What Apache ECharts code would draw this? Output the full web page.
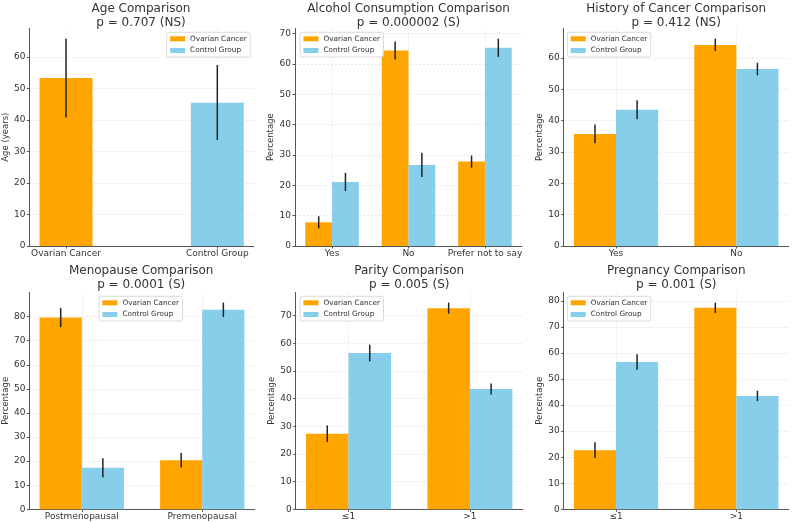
<!DOCTYPE html>
<html><head><meta charset="utf-8">
<script src="https://cdn.jsdelivr.net/npm/echarts@6/dist/echarts.min.js"></script>
<style>html,body{margin:0;padding:0;background:#fff}#c{width:792px;height:523px}</style>
</head><body><div id="c"></div>
<script>
// ---------- data ----------
const seriesNames = ['Ovarian Cancer', 'Control Group'];
const panelTitles = ['Age Comparison', 'Alcohol Consumption Comparison', 'History of Cancer Comparison',
  'Menopause Comparison', 'Parity Comparison', 'Pregnancy Comparison'];
const pValueLabels = ['p = 0.707 (NS)', 'p = 0.000002 (S)', 'p = 0.412 (NS)',
  'p = 0.0001 (S)', 'p = 0.005 (S)', 'p = 0.001 (S)'];
const yAxisNames = ['Age (years)', 'Percentage', 'Percentage', 'Percentage', 'Percentage', 'Percentage'];

const ageCategories = ['Ovarian Cancer', 'Control Group'];
const ageMeans = [53.3, 45.5];
const ageErrors = [12.5, 11.9];
const ageYTicks = [0, 10, 20, 30, 40, 50, 60];

const alcoholCategories = ['Yes', 'No', 'Prefer not to say'];
const alcoholOvarian = [7.8, 64.4, 27.8];
const alcoholOvarianErr = [2, 3, 2];
const alcoholControl = [21.1, 26.7, 65.3];
const alcoholControlErr = [3, 4, 3];
const alcoholYTicks = [0, 10, 20, 30, 40, 50, 60, 70];

const historyCategories = ['Yes', 'No'];
const historyOvarian = [35.8, 64.2];
const historyOvarianErr = [3, 2];
const historyControl = [43.5, 56.5];
const historyControlErr = [3, 2];
const historyYTicks = [0, 10, 20, 30, 40, 50, 60];

const menopauseCategories = ['Postmenopausal', 'Premenopausal'];
const menopauseOvarian = [79.6, 20.4];
const menopauseOvarianErr = [4, 3];
const menopauseControl = [17.2, 82.8];
const menopauseControlErr = [4, 3];
const menopauseYTicks = [0, 10, 20, 30, 40, 50, 60, 70, 80];

const parityCategories = ['≤1', '>1'];
const parityOvarian = [27.3, 72.7];
const parityOvarianErr = [3, 2];
const parityControl = [56.5, 43.5];
const parityControlErr = [3, 2];
const parityYTicks = [0, 10, 20, 30, 40, 50, 60, 70];

const pregnancyCategories = ['≤1', '>1'];
const pregnancyOvarian = [22.7, 77.3];
const pregnancyOvarianErr = [3, 2];
const pregnancyControl = [56.5, 43.5];
const pregnancyControlErr = [3, 2];
const pregnancyYTicks = [0, 10, 20, 30, 40, 50, 60, 70, 80];

// ---------- layout / style ----------
const COLORS = ['#FFA500', '#87CEEB'];
const BAR_W = 0.35;
const FONT = 'DejaVu Sans';
const TEXT = '#333';
const gridRects = [
  [28, 28.3, 226, 217.7], [295, 28.3, 227, 217.7], [563.7, 28.3, 225, 217.7],
  [27.7, 292.3, 227, 217], [295.7, 292.3, 227, 217], [563.7, 292.3, 225, 217]
];
const legendPos = [[166.7, 32.3], [300, 32.3], [567.3, 32.3], [99, 296.3], [300, 296.3], [567.3, 296.3]];
const titleTops = [2.6, 264.3];

const panels = [
  { cats: ageCategories, single: true, ovarian: [[0, ageMeans[0], ageErrors[0]]], control: [[1, ageMeans[1], ageErrors[1]]], ticks: ageYTicks },
  { cats: alcoholCategories, ov: alcoholOvarian, ovE: alcoholOvarianErr, co: alcoholControl, coE: alcoholControlErr, ticks: alcoholYTicks },
  { cats: historyCategories, ov: historyOvarian, ovE: historyOvarianErr, co: historyControl, coE: historyControlErr, ticks: historyYTicks },
  { cats: menopauseCategories, ov: menopauseOvarian, ovE: menopauseOvarianErr, co: menopauseControl, coE: menopauseControlErr, ticks: menopauseYTicks },
  { cats: parityCategories, ov: parityOvarian, ovE: parityOvarianErr, co: parityControl, coE: parityControlErr, ticks: parityYTicks },
  { cats: pregnancyCategories, ov: pregnancyOvarian, ovE: pregnancyOvarianErr, co: pregnancyControl, coE: pregnancyControlErr, ticks: pregnancyYTicks }
];
panels.forEach(p => {
  if (!p.single) {
    p.ovarian = p.cats.map((c, i) => [i - BAR_W / 2, p.ov[i], p.ovE[i]]);
    p.control = p.cats.map((c, i) => [i + BAR_W / 2, p.co[i], p.coE[i]]);
  }
});

function renderBar(params, api) {
  const x = api.value(0), y = api.value(1), e = api.value(2);
  const a = api.coord([x - BAR_W / 2, y]);
  const b = api.coord([x + BAR_W / 2, 0]);
  const t = api.coord([x, y + e]);
  const bt = api.coord([x, y - e]);
  return {
    type: 'group',
    children: [
      { type: 'rect', shape: { x: a[0], y: a[1], width: b[0] - a[0], height: b[1] - a[1] }, style: { fill: api.visual('color') } },
      { type: 'line', shape: { x1: t[0], y1: t[1], x2: bt[0], y2: bt[1] }, style: { stroke: '#222', lineWidth: 1.5 }, z2: 10 }
    ]
  };
}

const option = {
  animation: false,
  backgroundColor: '#fff',
  textStyle: { fontFamily: FONT },
  title: [], grid: [], xAxis: [], yAxis: [], legend: [], series: []
};

panels.forEach((p, k) => {
  const r = gridRects[k];
  option.grid.push({ left: r[0], top: r[1], width: r[2], height: r[3], containLabel: false });
  option.title.push({
    text: panelTitles[k] + '\n' + pValueLabels[k],
    left: r[0] + r[2] / 2, top: titleTops[k < 3 ? 0 : 1], textAlign: 'center', padding: 0,
    textStyle: { fontFamily: FONT, fontSize: 12, fontWeight: 'normal', color: TEXT, lineHeight: 13.4 }
  });
  const n = p.cats.length;
  const lo = p.single ? -BAR_W / 2 : -BAR_W;
  const hi = p.single ? n - 1 + BAR_W / 2 : n - 1 + BAR_W;
  const m = (hi - lo) * 0.05;
  const catIdx = p.cats.map((c, i) => i);
  const allTops = p.ovarian.concat(p.control).map(d => d[1] + d[2]);
  const ymax = Math.max(...allTops) * 1.05;
  option.xAxis.push({
    type: 'value', gridIndex: k, min: lo - m, max: hi + m,
    axisLine: { show: true, onZero: false, lineStyle: { color: '#555', width: 1 } },
    axisTick: { show: true, length: 2.5, customValues: catIdx, lineStyle: { color: '#555' } },
    axisLabel: { customValues: catIdx, formatter: v => p.cats[Math.round(v)], fontSize: 9, color: TEXT, margin: 3, fontFamily: FONT },
    splitLine: { show: true, lineStyle: { color: '#e3e3e3', type: [2, 2], width: 0.8 } }
  });
  option.yAxis.push({
    type: 'value', gridIndex: k, min: 0, max: ymax,
    name: yAxisNames[k], nameLocation: 'middle', nameGap: 14.5, nameRotate: 90,
    nameTextStyle: { fontSize: 8.5, color: TEXT, fontFamily: FONT },
    axisLine: { show: true, onZero: false, lineStyle: { color: '#555', width: 1 } },
    axisTick: { show: true, length: 2.5, customValues: p.ticks, lineStyle: { color: '#555' } },
    axisLabel: { customValues: p.ticks, fontSize: 9, color: TEXT, margin: 4, fontFamily: FONT },
    splitLine: { show: true, lineStyle: { color: '#e3e3e3', type: [2, 2], width: 0.8 } }
  });
  option.legend.push({
    left: legendPos[k][0], top: legendPos[k][1], orient: 'vertical', selectedMode: false,
    data: seriesNames, icon: 'rect', itemWidth: 15, itemHeight: 5, itemGap: 3.7,
    padding: [2.5, 3.4], backgroundColor: 'rgba(255,255,255,0.85)', borderColor: '#d0d0d0', borderWidth: 0.8, borderRadius: 2,
    textStyle: { fontSize: 7.3, color: TEXT, lineHeight: 8, fontFamily: FONT }
  });
  [p.ovarian, p.control].forEach((d, s) => {
    option.series.push({
      type: 'custom', name: seriesNames[s], xAxisIndex: k, yAxisIndex: k,
      itemStyle: { color: COLORS[s] }, data: d, renderItem: renderBar, clip: false
    });
  });
});

const chart = echarts.init(document.getElementById('c'), null, { renderer: 'canvas' });
chart.setOption(option);
</script></body></html>
